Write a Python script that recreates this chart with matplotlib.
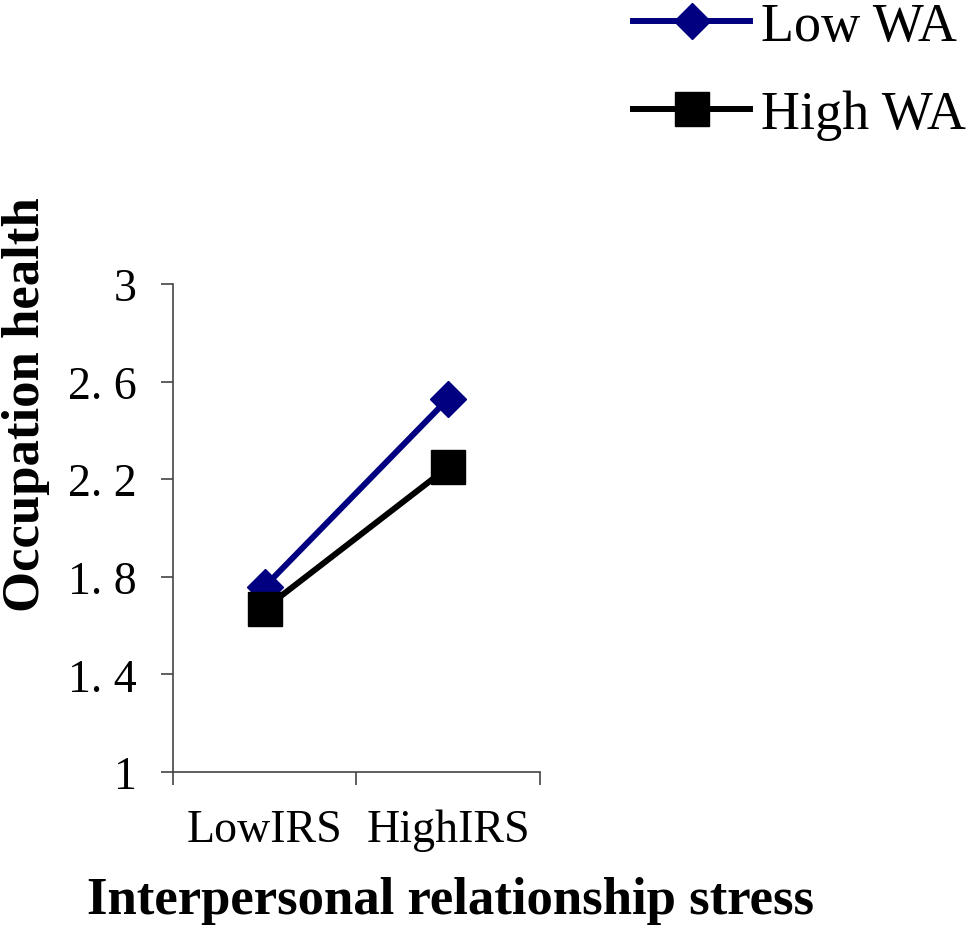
import matplotlib.pyplot as plt
from matplotlib.ticker import FixedLocator

# Data
categories = ["LowIRS", "HighIRS"]
low_wa = [1.76, 2.53]
high_wa = [1.67, 2.25]
y_ticks = [1, 1.4, 1.8, 2.2, 2.6, 3]
y_tick_labels = ["1", "1. 4", "1. 8", "2. 2", "2. 6", "3"]

plt.rcParams['font.family'] = ['Liberation Serif', 'DejaVu Serif']

fig = plt.figure(figsize=(9.75, 9.37), dpi=100, facecolor='w')
ax = fig.add_axes([0.1774, 0.175, 0.3764, 0.5208])

x = [0.5, 1.5]
l1, = ax.plot(x, low_wa, color='#000080', lw=4.3, marker='D', ms=18,
              mfc='#000080', mec='#000080', label='Low WA')
l2, = ax.plot(x, high_wa, color='black', lw=4.3, marker='s', ms=24,
              mfc='black', mec='black', label='High WA')

ax.set_xlim(0, 2)
ax.set_ylim(1, 3)
for s in ['top', 'right']:
    ax.spines[s].set_visible(False)
for s in ['left', 'bottom']:
    ax.spines[s].set_color('#444444')
    ax.spines[s].set_linewidth(1.2)

ax.xaxis.set_major_locator(FixedLocator([0, 1, 2]))
ax.xaxis.set_minor_locator(FixedLocator(x))
ax.set_xticklabels([])
ax.set_xticklabels(categories, minor=True)
ax.tick_params(axis='x', which='major', length=9, width=1.2, color='#444444')
ax.tick_params(axis='x', which='minor', length=0, labelsize=33, pad=26)

ax.set_yticks(y_ticks)
ax.set_yticklabels(y_tick_labels)
ax.tick_params(axis='y', length=9, width=1.2, color='#444444', labelsize=33, pad=17)

ax.set_ylabel("Occupation health", fontsize=38, fontweight='bold')
ax.yaxis.set_label_coords(-0.336, 0.754)
ax.set_xlabel("Interpersonal relationship stress", fontsize=38, fontweight='bold')
ax.xaxis.set_label_coords(0.755, -0.214)

fig.legend(handles=[l1, l2], loc='upper left', bbox_to_anchor=(0.649, 0.997),
           frameon=False, fontsize=39, handlelength=2.17, handletextpad=0.2,
           labelspacing=0.68, borderpad=0, borderaxespad=0)

plt.savefig('out.png', dpi=100)
